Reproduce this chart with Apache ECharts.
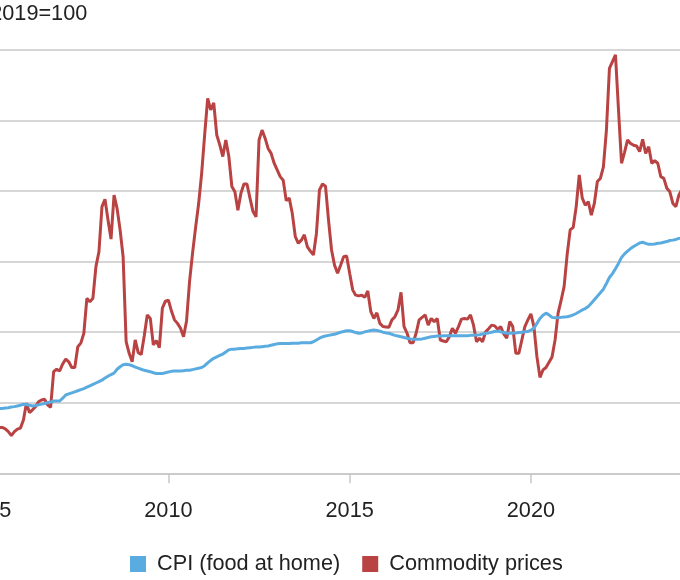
<!DOCTYPE html>
<html>
<head>
<meta charset="utf-8">
<script src="https://cdn.jsdelivr.net/npm/echarts@6/dist/echarts.min.js"></script>
<style>
  html, body { margin: 0; padding: 0; overflow: hidden; background: #fff; }
  #chart { position: absolute; left: -60px; top: 0; width: 800px; height: 580px; }
</style>
</head>
<body>
<div id="chart"></div>
<script>
// monthly series, Jan 2005 onward, index 2019=100
const startYear = 2005;

const cpiFoodAtHome = [
  78.0, 78.1, 78.2, 78.3, 78.4, 78.4, 78.5, 78.6, 78.8, 78.9, 79.1, 79.3,
  79.6, 79.5, 79.3, 79.1, 79.2, 79.4, 79.6, 79.8, 80.0, 80.2, 80.5, 80.5,
  80.5, 81.3, 82.2, 82.5, 82.8, 83.1, 83.4, 83.7, 84.0, 84.4, 84.8, 85.2,
  85.6, 86.0, 86.4, 87.0, 87.5, 88.0, 88.4, 89.5, 90.2, 90.8, 90.9, 90.8,
  90.5, 90.1, 89.8, 89.5, 89.2, 89.0, 88.8, 88.5, 88.3, 88.3, 88.3, 88.5,
  88.7, 88.9, 89.0, 89.0, 89.0, 89.1, 89.2, 89.2, 89.4, 89.6, 89.8, 90.0,
  90.5, 91.3, 92.0, 92.6, 93.0, 93.4, 93.8, 94.4, 95.0, 95.2, 95.2, 95.3,
  95.4, 95.4, 95.5, 95.6, 95.7, 95.8, 95.8, 95.9, 96.0, 96.1, 96.3, 96.5,
  96.7, 96.8, 96.8, 96.8, 96.8, 96.9, 96.9, 96.9, 97.0, 97.0, 97.0, 97.0,
  97.3, 97.8, 98.3, 98.7, 98.9, 99.1, 99.3, 99.4, 99.7, 100.0, 100.2, 100.4,
  100.4, 100.2, 99.9, 99.7, 99.8, 100.1, 100.3, 100.5, 100.6, 100.5, 100.3, 100.0,
  99.8, 99.7, 99.4, 99.1, 98.9, 98.7, 98.5, 98.3, 98.1, 98.0, 98.0, 98.0,
  98.1, 98.3, 98.5, 98.7, 98.8, 98.9, 98.9, 99.0, 99.0, 99.0, 99.0, 99.0,
  99.0, 99.0, 99.0, 99.0, 99.1, 99.1, 99.2, 99.3, 99.5, 99.7, 99.8, 100.0,
  100.2, 100.3, 100.1, 99.9, 99.7, 99.7, 99.8, 99.8, 99.9, 100.0, 100.1, 100.2,
  100.6, 101.1, 102.5, 103.9, 104.8, 105.4, 104.9, 104.2, 104.1, 104.1, 104.2, 104.3,
  104.4, 104.6, 104.9, 105.3, 105.8, 106.3, 106.7, 107.3, 108.2, 109.2, 110.2, 111.2,
  112.2, 113.8, 115.5, 116.6, 118.0, 119.5, 121.2, 122.2, 123.0, 123.7, 124.3, 124.8,
  125.3, 125.5, 125.2, 124.9, 124.9, 125.0, 125.2, 125.3, 125.5, 125.7, 126.0, 126.1,
  126.3, 126.6, 126.7, 126.8, 126.9, 127.0
];

const commodityPrices = [
  74, 75, 74, 73.5, 73, 73, 72.6, 71.8, 70.7, 71.8, 72.5, 72.8,
  75.1, 79.9, 77.2, 78, 78.9, 80.3, 80.8, 81, 79.4, 78.7, 88.8, 89.5,
  89, 91, 92.4, 91.6, 90, 90, 95.9, 96.9, 99.7, 109.6, 108.6, 109.6,
  118.6, 122.8, 135.6, 137.7, 131.8, 126.4, 138.9, 135.1, 129, 121.4, 97.3, 94,
  91.6, 97.8, 94.2, 93.7, 99, 104.9, 103.9, 96.4, 97.6, 95.6, 106.8, 108.8,
  109.1, 106, 103.5, 102.5, 101.1, 98.7, 103.2, 114.4, 122.5, 129.7, 136.4, 145,
  156, 166.3, 163, 165, 155.9, 153.1, 149.8, 154.5, 149.8, 141.3, 139.8, 134.6,
  139.4, 142, 142, 138, 134.2, 132.7, 154.5, 157.3, 155, 152.1, 150.7, 147.9,
  146, 144.1, 143.1, 137.3, 138, 133.7, 127.1, 125.2, 126.1, 127.6, 124.2, 123,
  121.9, 128, 140.3, 142, 141.4, 131.8, 123.3, 119, 116.7, 119, 121.4, 121.6,
  116.7, 112, 110.5, 110.3, 110.5, 109.9, 111.7, 105.8, 103.9, 105.5, 102.5, 101.6,
  101.5, 101.4, 103.5, 104.4, 106.3, 111.3, 101.6, 99.7, 97, 97, 99.7, 103.5,
  104.2, 104.9, 102, 103.9, 103, 103.9, 97.8, 97.5, 97.3, 98.7, 101.1, 99.7,
  101.5, 103.7, 103.9, 103.7, 104.9, 102, 97.3, 98.3, 97.3, 100.1, 101, 102,
  101.8, 100.8, 101.6, 99.5, 98.3, 103, 101.6, 94, 94, 97.8, 101.6, 103.5,
  105.2, 101.6, 93, 87.2, 89.3, 90, 91.5, 93, 97.8, 105.4, 109, 113,
  122, 129, 129.7, 135.6, 144.6, 138, 136, 137, 133.2, 136.5, 142.7, 143.6,
  146.9, 157.3, 174.8, 176.7, 178.6, 163, 147.9, 151, 154.5, 153.5, 153, 152.8,
  151.2, 154.7, 150.7, 152.6, 147.9, 148.6, 147.9, 144.1, 143.6, 140.8, 139.8, 136.5,
  135.6, 138.9, 140.5, 139.5, 141, 140
];

const seriesNames = ['CPI (food at home)', 'Commodity prices'];
const seriesColors = ['#5aace0', '#b94242'];

// month labels like 2005-01
const months = cpiFoodAtHome.map(function (v, i) {
  const y = startYear + Math.floor(i / 12);
  const m = (i % 12) + 1;
  return y + '-' + (m < 10 ? '0' + m : m);
});

const showYear = function (idx, val) {
  return val.slice(5) === '01' && Number(val.slice(0, 4)) % 5 === 0;
};

const font = '"Liberation Sans", Arial, Helvetica, sans-serif';
const fontSize = 21.7;
const gridColor = '#c8c8c8';

const chart = echarts.init(document.getElementById('chart'));

const option = {
  backgroundColor: '#fff',
  animation: false,
  title: {
    text: '2019=100',
    left: 50.2,
    top: 3,
    padding: 0,
    textStyle: { fontFamily: font, fontSize: fontSize, fontWeight: 'normal', color: '#222' }
  },
  legend: {
    data: seriesNames,
    left: 190,
    top: 553,
    padding: 0,
    itemGap: 22,
    itemWidth: 16,
    itemHeight: 16,
    icon: 'rect',
    textStyle: { fontFamily: font, fontSize: fontSize, color: '#222', padding: [0, 0, 0, 6] }
  },
  grid: {
    left: 42.2,
    right: 49,
    top: 50,
    bottom: 106.7,
    containLabel: false
  },
  xAxis: {
    type: 'category',
    data: months,
    boundaryGap: false,
    axisLine: { lineStyle: { color: gridColor, width: 1.5 } },
    axisTick: { show: true, interval: showYear, length: 10, lineStyle: { color: gridColor, width: 1.5 } },
    axisLabel: {
      interval: showYear,
      margin: 27,
      formatter: function (val) { return val.slice(0, 4); },
      fontFamily: font,
      fontSize: fontSize,
      color: '#222'
    },
    splitLine: { show: false }
  },
  yAxis: {
    type: 'value',
    min: 60,
    max: 180,
    interval: 20,
    axisLine: { show: false },
    axisTick: { show: false },
    axisLabel: { fontFamily: font, fontSize: fontSize, color: '#222' },
    splitLine: { lineStyle: { color: gridColor, width: 1.5 } }
  },
  series: [
    {
      name: seriesNames[0],
      type: 'line',
      data: cpiFoodAtHome,
      showSymbol: false,
      symbol: 'none',
      z: 3,
      lineStyle: { color: seriesColors[0], width: 3 },
      itemStyle: { color: seriesColors[0] }
    },
    {
      name: seriesNames[1],
      type: 'line',
      data: commodityPrices,
      showSymbol: false,
      symbol: 'none',
      z: 2,
      lineStyle: { color: seriesColors[1], width: 3 },
      itemStyle: { color: seriesColors[1] }
    }
  ]
};

chart.setOption(option);
</script>
</body>
</html>
